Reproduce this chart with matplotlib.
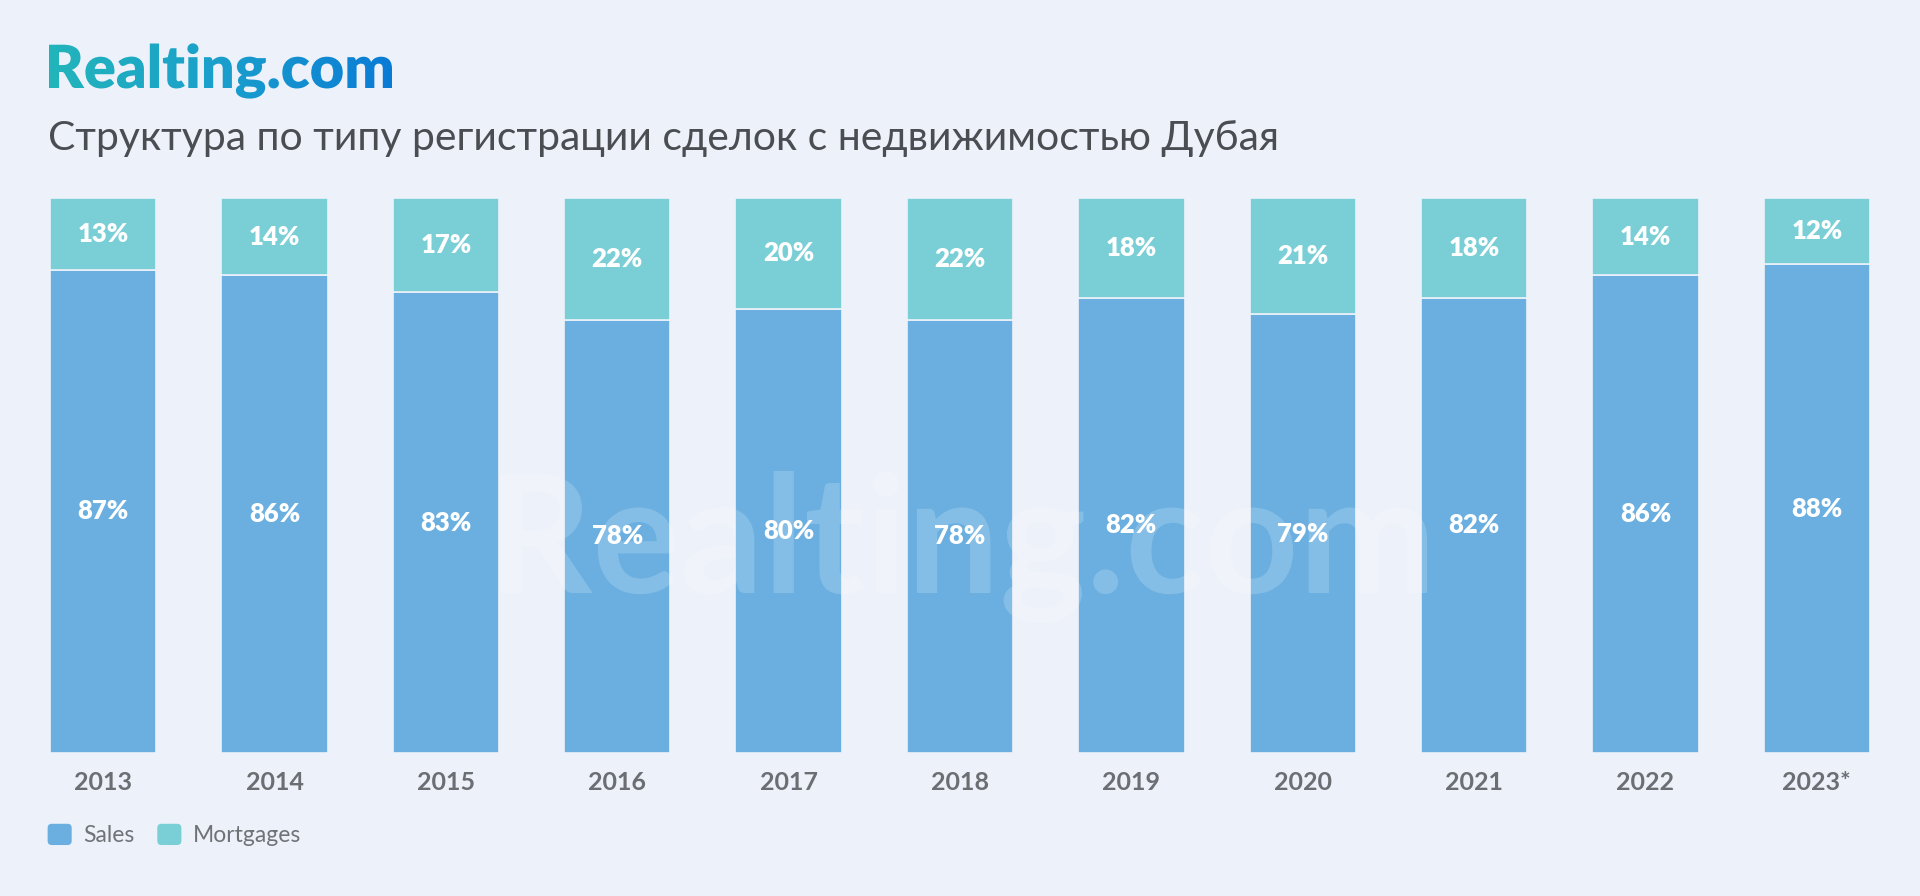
import matplotlib
matplotlib.use("Agg")
import matplotlib.pyplot as plt
import numpy as np
from matplotlib.textpath import TextPath
from matplotlib.patches import PathPatch, Patch, FancyBboxPatch
from matplotlib.legend_handler import HandlerPatch
from matplotlib.font_manager import FontProperties
import matplotlib.transforms as mtransforms
from matplotlib.colors import LinearSegmentedColormap

years = ["2013", "2014", "2015", "2016", "2017", "2018", "2019", "2020", "2021", "2022", "2023*"]
sales = [87, 86, 83, 78, 80, 78, 82, 79, 82, 86, 88]
mortgages = [13, 14, 17, 22, 20, 22, 18, 21, 18, 14, 12]
series_names = ["Sales", "Mortgages"]
title = "Структура по типу регистрации сделок с недвижимостью Дубая"
brand = "Realting.com"

BG = "#edf2fa"
C_SALES = "#6aafe0"
C_MORT = "#7acfd6"
FONT = ["Lato", "Noto Sans", "DejaVu Sans"]
plt.rcParams["font.family"] = FONT

W, H = 1920, 896
fig = plt.figure(figsize=(W / 100, H / 100), dpi=100, facecolor=BG)

# main axes, positioned in pixel terms
left, right = 50, 1870
top, bottom = 197.7, 753
ax = fig.add_axes([left / W, 1 - bottom / H, (right - left) / W, (bottom - top) / H])
ax.set_facecolor(BG)
x = np.arange(len(years))
bw = 0.62
ax.bar(x, sales, width=bw, color=C_SALES, edgecolor=BG, linewidth=1.2, zorder=2)
ax.bar(x, mortgages, width=bw, bottom=sales, color=C_MORT, edgecolor=BG, linewidth=1.2, zorder=2)
ax.set_xlim(-bw / 2, len(years) - 1 + bw / 2)
ax.set_ylim(0, 100)
for s in ax.spines.values():
    s.set_visible(False)
ax.set_yticks([])
ax.set_xticks(x)
ax.set_xticklabels(years, fontsize=18, fontweight="bold", color="#6b6e72")
ax.tick_params(axis="x", length=0, pad=13)

for i in range(len(years)):
    ax.text(x[i], sales[i] / 2, f"{sales[i]}%", ha="center", va="center",
            color="white", fontsize=18.5, fontweight="heavy", zorder=3)
    ax.text(x[i], sales[i] + mortgages[i] / 2, f"{mortgages[i]}%", ha="center", va="center",
            color="white", fontsize=18.5, fontweight="heavy", zorder=3)


class RoundHandler(HandlerPatch):
    def create_artists(self, legend, orig_handle, xdescent, ydescent, width, height,
                       fontsize, trans):
        p = FancyBboxPatch((-xdescent, -ydescent), width, height,
                           boxstyle="round,pad=0,rounding_size=3",
                           facecolor=orig_handle.get_facecolor(), edgecolor="none",
                           transform=trans)
        return [p]


handles = [Patch(facecolor=C_SALES, edgecolor="none"), Patch(facecolor=C_MORT, edgecolor="none")]
leg = fig.legend(handles, series_names, loc="center left",
                 bbox_to_anchor=(27 / W, 1 - 835 / H), ncol=2, frameon=False,
                 handlelength=1.05, handleheight=1.05, handletextpad=0.5,
                 columnspacing=1.0, prop={"family": FONT, "size": 16.5},
                 handler_map={Patch: RoundHandler()})
for t in leg.get_texts():
    t.set_color("#6f7378")

# overlay axes in pixel coordinates
ov = fig.add_axes([0, 0, 1, 1])
ov.set_xlim(0, W)
ov.set_ylim(0, H)
ov.axis("off")
ov.patch.set_alpha(0)

# title
ov.text(48, H - 150, title, fontsize=29.4, color="#4a4d52", ha="left", va="baseline",
        family=["Lato", "Noto Sans", "DejaVu Sans"])

# gradient brand logo
fp = FontProperties(family=["Lato", "DejaVu Sans"], weight="heavy")
tp = TextPath((0, 0), brand, size=100, prop=fp)
ext = tp.get_extents()
target_w = 392 - 49
sc = target_w / ext.width
tr = mtransforms.Affine2D().translate(-ext.x0, 0).scale(sc).translate(49, H - 88)
path = tr.transform_path(tp)
pp = PathPatch(path, facecolor="none", edgecolor="none", transform=ov.transData)
ov.add_patch(pp)
pe = path.get_extents()
cmap = LinearSegmentedColormap.from_list("brand", ["#22b5bb", "#1a9fcc", "#0a7bd6"])
grad = np.linspace(0, 1, 256).reshape(1, -1)
im = ov.imshow(grad, cmap=cmap, extent=[pe.x0, pe.x1, pe.y0, pe.y1], aspect="auto",
               interpolation="bilinear", zorder=5)
im.set_clip_path(pp)
ov.set_xlim(0, W)
ov.set_ylim(0, H)

# watermark
fpw = FontProperties(family=["Lato", "DejaVu Sans"], weight="bold")
tw = TextPath((0, 0), brand, size=100, prop=fpw)
ew = tw.get_extents()
scw = (1427 - 500) / ew.width
trw = mtransforms.Affine2D().translate(-ew.x0, 0).scale(scw).translate(500, H - 593)
ov.add_patch(PathPatch(trw.transform_path(tw), facecolor="white", edgecolor="none",
                       alpha=0.18, transform=ov.transData, zorder=4))

fig.savefig("out.png", dpi=100, facecolor=BG)
